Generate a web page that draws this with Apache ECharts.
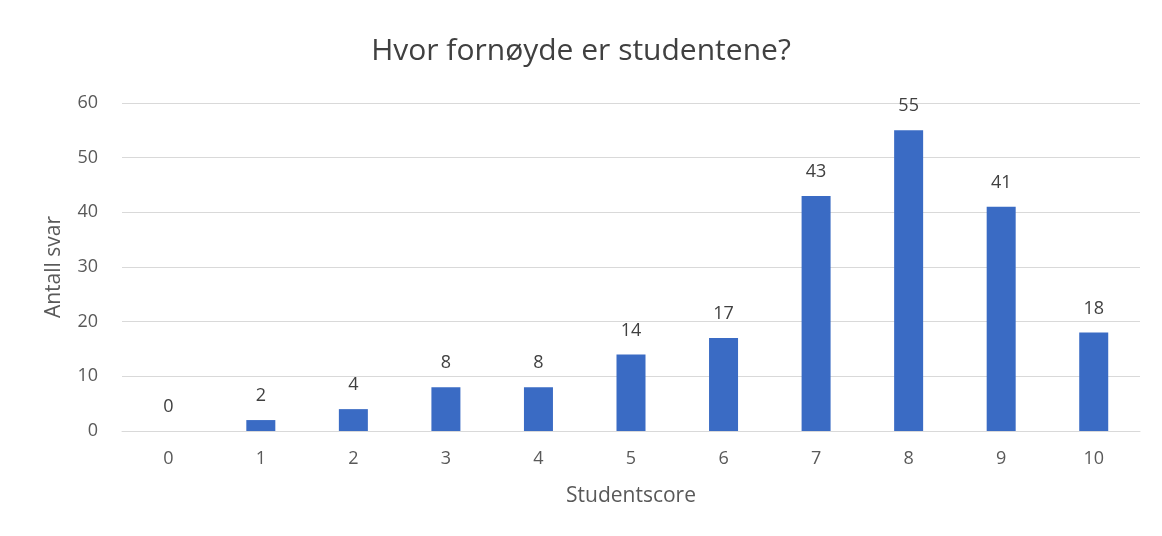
<!DOCTYPE html>
<html>
<head>
<meta charset="utf-8">
<script src="https://cdn.jsdelivr.net/npm/echarts@6/dist/echarts.min.js"></script>
<style>
  html, body { margin: 0; padding: 0; background: #fff; }
  #chart { width: 1162px; height: 536px; }
</style>
</head>
<body>
<div id="chart"></div>
<script>
// scores on the x axis and number of answers per score
const scores = ['0', '1', '2', '3', '4', '5', '6', '7', '8', '9', '10']
const answers = [0, 2, 4, 8, 8, 14, 17, 43, 55, 41, 18]

const textColor = '#595959'
const font = '"Open Sans", "DejaVu Sans", sans-serif'

const chart = echarts.init(document.getElementById('chart'))

chart.setOption({
  animation: false,
  title: {
    text: 'Hvor fornøyde er studentene?',
    left: 'center',
    top: 31,
    textStyle: {
      color: '#404040',
      fontSize: 30,
      fontWeight: 'normal',
      fontFamily: font
    }
  },
  grid: {
    left: 122,
    right: 22,
    top: 103,
    bottom: 105
  },
  xAxis: {
    type: 'category',
    data: scores,
    name: 'Studentscore',
    nameLocation: 'middle',
    nameGap: 55,
    nameTextStyle: { color: textColor, fontSize: 21, fontFamily: font },
    axisLine: { lineStyle: { color: '#d9d9d9' } },
    axisTick: { show: false },
    axisLabel: { color: textColor, fontSize: 18, margin: 19, fontFamily: font }
  },
  yAxis: {
    type: 'value',
    min: 0,
    max: 60,
    interval: 10,
    name: 'Antall svar',
    nameLocation: 'middle',
    nameGap: 57,
    nameTextStyle: { color: textColor, fontSize: 21, fontFamily: font },
    axisLine: { show: false },
    axisTick: { show: false },
    axisLabel: { color: textColor, fontSize: 18, margin: 24, fontFamily: font },
    splitLine: { lineStyle: { color: '#d9d9d9' } }
  },
  series: [{
    name: 'Antall svar',
    type: 'bar',
    data: answers,
    barWidth: 29,
    itemStyle: { color: '#3a6bc4' },
    label: {
      show: true,
      position: 'top',
      distance: 15,
      color: '#404040',
      fontSize: 18,
      fontFamily: font
    }
  }]
})
</script>
</body>
</html>
